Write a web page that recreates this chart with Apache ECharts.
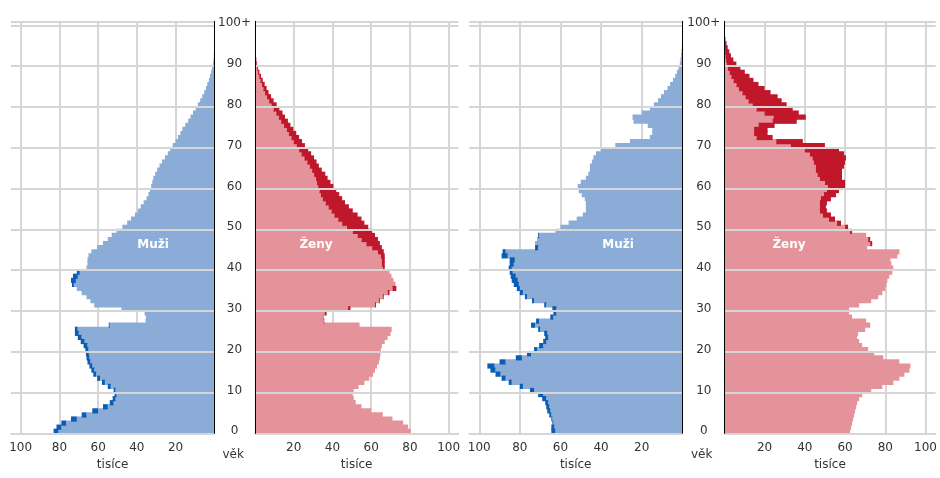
<!DOCTYPE html>
<html>
<head>
<meta charset="utf-8">
<script src="https://cdn.jsdelivr.net/npm/echarts@6/dist/echarts.min.js"></script>
<style>
html,body{margin:0;padding:0;background:#fff;}
#chart{width:940px;height:478px;}
</style>
</head>
<body>
<div id="chart"></div>
<script>
// Age categories 0..99 and 100+
const ages = [];
for (let i = 0; i < 100; i++) ages.push(String(i));
ages.push('100+');

// Tick labels
const xTicks = [20, 40, 60, 80, 100];
const yTickEvery = 10;

// Left pyramid (thousands), index = age
const menA = [83,81.5,79,74,68.5,63,57.5,54,52.5,51.5,
  52,55,58,60.5,62.5,63.5,64.5,65.5,66,66.3,
  66.6,67.5,69,70.5,72,72,54.5,35.5,35.3,36,
  48,62,64,66,68.5,71,73.5,74,73,71,
  66,65.5,65.5,65,63.5,60.5,57.5,55,53,50.5,
  47.5,45,43,41,39.5,38,36.5,35,34,33.3,
  32.6,32,31.5,30.5,29.5,28.3,27,25.5,24,22.8,
  21.5,20,18.8,17.5,16.5,15,13.5,12.3,11,9.6,
  8.5,7.3,6.2,5.2,4.3,3.6,2.8,2.2,1.6,1.1,
  0.7,0.4,0.25,0.15,0.1,0.05,0.03,0.02,0.01,0.01,0.01];
const womenA = [80.5,79,76.5,71,66,60,55,52,51,50.5,
  51,53.5,56.5,59,61,62,63,64,64.5,64.8,
  65,65.5,67,68.5,70,70.6,54,35.8,35.5,37,
  49.3,62.5,64.5,66.5,69.5,73,72.5,71.5,70.5,69.5,
  67,67,67,67,66.5,65.5,64.5,63.5,62,60.5,
  58.5,56.5,55,53,50.5,48.5,46.5,45,43.5,42,
  40.5,39,37.5,36.3,34.5,33,31.8,30.5,29,27.5,
  25.8,24.3,22.8,21.3,19.8,18.3,17,15.5,14.2,12.6,
  11.2,9.6,8.3,7,6,5,4,3.1,2.3,1.6,
  1.1,0.7,0.4,0.25,0.15,0.1,0.05,0.03,0.02,0.01,0.01];

// Right pyramid (thousands), index = age
const menB = [64.5,64.5,64,64.5,65.5,66.5,67,67.5,69,71,
  75,80,85.5,89,92,94.5,96,90,82,76.5,
  73,70.5,68.5,67.5,68,71,74.5,72,65,63.5,
  64,68,74,77.5,80,81.5,83,84,84.5,85,
  85.5,85,85,89,88.5,72.5,72.5,71.5,71,62.5,
  60,56,52,49,47.5,47.5,47.5,48,49.5,51,
  51.5,50,47.5,46.3,45.5,45.5,44.5,43.8,42.5,40,
  33,25.8,16,14.8,14.8,17,24,24.5,20,16,
  14,12,10.5,9,7.3,6,4.6,3.5,2.6,1.8,
  1.2,0.9,0.6,0.4,0.25,0.15,0.1,0.05,0.03,0.02,0.02];
const womenB = [62.5,63,63.5,64,64.5,65,65.5,66,67,68.5,
  73,78.5,84,87,89.5,92,92.5,87,79,74.5,
  71.5,68.5,67,66,66.5,70,72.5,70.5,63.5,62,
  62,67,73,76.5,78.5,80,80.5,81,82,83.5,
  84,83,82.5,86,87,71,73.5,72.5,70.5,63.5,
  61.5,58,55,53,51,50.5,51,53,55.5,57,
  60,60,58.5,58.5,58.5,59.5,60,60.5,59.5,57,
  50,39,24,21.5,21.5,25,36,40.5,37,34,
  31,28.5,26.5,23,20,17,14.5,12.5,10.2,8,
  6,4.5,3.3,2.5,1.7,1.1,0.6,0.35,0.2,0.1,0.4];

const C = {
  menLight: '#8BACD7', menDark: '#0A5CB4',
  womenLight: '#E4939A', womenDark: '#C0172B',
  grid: '#D6D6D6', axis: '#808080', text: '#333333'
};
const FONT = 'DejaVu Sans';

function split(m, f) {
  const base = [], mEx = [], fEx = [];
  for (let i = 0; i < m.length; i++) {
    const b = Math.min(m[i], f[i]);
    base.push(b); mEx.push(+(m[i] - b).toFixed(3)); fEx.push(+(f[i] - b).toFixed(3));
  }
  return { base, mEx, fEx };
}
const A = split(menA, womenA);
const B = split(menB, womenB);

const grids = [
  { left: 11, top: 21.3, width: 203.3, height: 412 },
  { left: 255, top: 21.3, width: 203.3, height: 412 },
  { left: 469.1, top: 21.3, width: 213.2, height: 412 },
  { left: 724.3, top: 21.3, width: 213.2, height: 412 }
];

function xAxisDef(gi, inverse) {
  return {
    gridIndex: gi, type: 'value', min: 0, max: 105, interval: 20, inverse: inverse,
    name: 'tisíce', nameLocation: 'middle', nameGap: 26,
    nameTextStyle: { fontFamily: FONT, fontSize: 12, color: C.text },
    axisLine: { show: true, lineStyle: { color: C.axis, width: 1 } },
    axisTick: { show: false },
    axisLabel: {
      fontFamily: FONT, fontSize: 12, color: C.text, margin: 9,
      showMinLabel: false, showMaxLabel: false,
      formatter: function (v) { return xTicks.indexOf(v) >= 0 ? String(v) : ''; }
    },
    splitLine: { show: true, showMinLine: false, showMaxLine: false, lineStyle: { color: C.grid, width: 2 } }
  };
}
function yAxisDef(gi, isMale) {
  return {
    gridIndex: gi, type: 'category', data: ages, position: isMale ? 'right' : 'left',
    boundaryGap: true,
    axisLine: { show: true, onZero: false, lineStyle: { color: '#000', width: 1 } },
    axisTick: { show: false },
    axisLabel: {
      show: !isMale, interval: function (i) { return i % yTickEvery === 0; },
      fontFamily: FONT, fontSize: 12, color: C.text, align: 'center', margin: 20.5
    },
    splitLine: { show: true, interval: function (i) { return i % yTickEvery === 0; }, lineStyle: { color: C.grid, width: 2 } },
    z: 3
  };
}

function bar(xi, data, color, stack) {
  return {
    type: 'bar', xAxisIndex: xi, yAxisIndex: xi, data: data, stack: stack,
    barWidth: 5.2,
    itemStyle: { color: color, borderWidth: 0 },
    silent: true, animation: false
  };
}

const chart = echarts.init(document.getElementById('chart'), null, { renderer: 'canvas' });
chart.setOption({
  backgroundColor: '#ffffff',
  animation: false,
  grid: grids,
  xAxis: [xAxisDef(0, true), xAxisDef(1, false), xAxisDef(2, true), xAxisDef(3, false)],
  yAxis: [yAxisDef(0, true), yAxisDef(1, false), yAxisDef(2, true), yAxisDef(3, false)],
  series: [
    bar(0, A.base, C.menLight, 'a0'), bar(0, A.mEx, C.menDark, 'a0'),
    bar(1, A.base, C.womenLight, 'a1'), bar(1, A.fEx, C.womenDark, 'a1'),
    bar(2, B.base, C.menLight, 'b0'), bar(2, B.mEx, C.menDark, 'b0'),
    bar(3, B.base, C.womenLight, 'b1'), bar(3, B.fEx, C.womenDark, 'b1')
  ],
  graphic: [
    { type: 'text', left: 222.5, top: 449, style: { text: 'věk', fontFamily: FONT, fontSize: 12, fill: C.text } },
    { type: 'text', left: 691, top: 449, style: { text: 'věk', fontFamily: FONT, fontSize: 12, fill: C.text } },
    { type: 'text', x: 153, y: 245, z: 10, style: { text: 'Muži', fontFamily: FONT, fontSize: 12, fontWeight: 'bold', fill: '#fff', align: 'center', verticalAlign: 'middle' } },
    { type: 'text', x: 316, y: 245, z: 10, style: { text: 'Ženy', fontFamily: FONT, fontSize: 12, fontWeight: 'bold', fill: '#fff', align: 'center', verticalAlign: 'middle' } },
    { type: 'text', x: 618, y: 245, z: 10, style: { text: 'Muži', fontFamily: FONT, fontSize: 12, fontWeight: 'bold', fill: '#fff', align: 'center', verticalAlign: 'middle' } },
    { type: 'text', x: 789, y: 245, z: 10, style: { text: 'Ženy', fontFamily: FONT, fontSize: 12, fontWeight: 'bold', fill: '#fff', align: 'center', verticalAlign: 'middle' } }
  ]
});
</script>
</body>
</html>
